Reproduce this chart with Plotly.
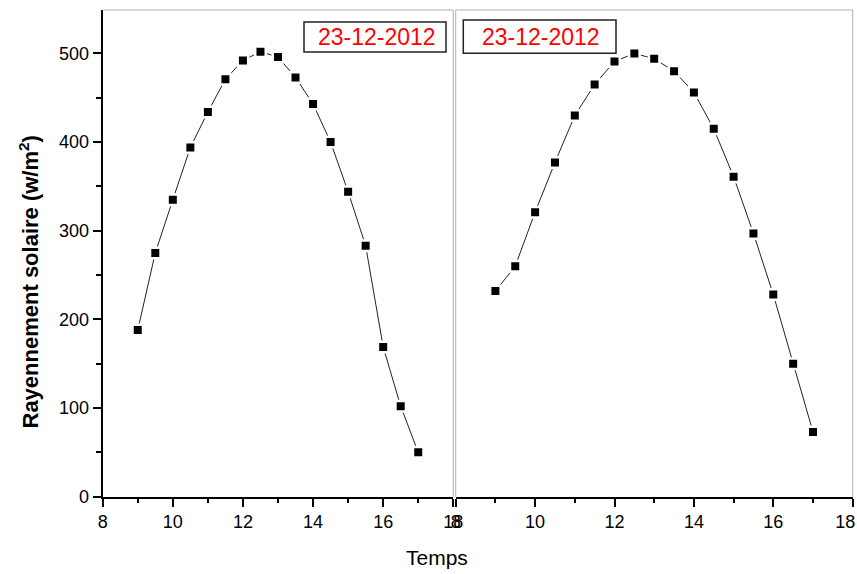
import plotly.graph_objects as go

# Heures de mesure (h)
temps = [9, 9.5, 10, 10.5, 11, 11.5, 12, 12.5, 13, 13.5, 14, 14.5, 15, 15.5, 16, 16.5, 17]

# Rayonnement solaire mesuré (W/m²), panneau de gauche
rayonnement_a = [188, 275, 335, 394, 434, 471, 492, 502, 496, 473, 443, 400, 344, 283, 169, 102, 50]
# Rayonnement solaire, panneau de droite
rayonnement_b = [232, 260, 321, 377, 430, 465, 491, 500, 494, 480, 456, 415, 361, 297, 228, 150, 73]

date_label = "23-12-2012"
x_ticks = [8, 10, 12, 14, 16, 18]
y_ticks = [0, 100, 200, 300, 400, 500]

W, H = 857, 574
FONT = "Liberation Sans, Arial, sans-serif"
NBSP = "\u00a0"


def px_x(p):
    return p / W


def px_y(p):
    return (H - p) / H


fig = go.Figure()

for xa, ya, vals in (("x", "y", rayonnement_a), ("x2", "y2", rayonnement_b)):
    # connecting line
    fig.add_trace(go.Scatter(x=temps, y=vals, mode="lines", xaxis=xa, yaxis=ya,
                             line=dict(color="#222", width=1), hoverinfo="skip"))
    # white halo so the line stops short of each square
    fig.add_trace(go.Scatter(x=temps, y=vals, mode="markers", xaxis=xa, yaxis=ya,
                             marker=dict(symbol="square", size=13, color="white"),
                             hoverinfo="skip"))
    fig.add_trace(go.Scatter(x=temps, y=vals, mode="markers", xaxis=xa, yaxis=ya,
                             marker=dict(symbol="square", size=8, color="black")))

x_left = (102.7, 453.3)
x_right = (455.7, 852.7)
y_bot, y_top = 496.7, 10.0

xcommon = dict(range=[8, 18], tickvals=x_ticks, ticks="outside", ticklen=8, tickwidth=1.5,
               tickcolor="black", showline=True, linecolor="black", linewidth=2,
               showgrid=False, zeroline=False, automargin=False,
               minor=dict(dtick=1, ticks="outside", ticklen=4, tickwidth=1.5, tickcolor="black"),
               tickfont=dict(family=FONT, size=18, color="black"))

# last label of the right panel is nudged left so it stays inside the page
right_ticktext = [str(t) for t in x_ticks]
right_ticktext[-1] = right_ticktext[-1] + NBSP * 3

fig.update_layout(
    width=W, height=H, autosize=False,
    margin=dict(l=0, r=0, t=0, b=0, pad=0, autoexpand=False),
    paper_bgcolor="white", plot_bgcolor="white",
    showlegend=False,
    xaxis=dict(domain=[px_x(x_left[0]), px_x(x_left[1])], anchor="y", **xcommon),
    xaxis2=dict(domain=[px_x(x_right[0]), px_x(x_right[1])], anchor="y2",
                ticktext=right_ticktext, ticklabeloverflow="allow", **xcommon),
    yaxis=dict(domain=[px_y(y_bot), px_y(y_top)], anchor="x", range=[0, 549],
               tickvals=y_ticks, ticks="outside", ticklen=8, tickwidth=1.5, tickcolor="black",
               showline=True, linecolor="black", linewidth=2, showgrid=False, zeroline=False,
               automargin=False,
               minor=dict(dtick=50, ticks="outside", ticklen=5, tickwidth=1.5, tickcolor="black"),
               tickfont=dict(family=FONT, size=18, color="black")),
    yaxis2=dict(domain=[px_y(y_bot), px_y(y_top)], anchor="x2", range=[0, 549],
                showline=False, showticklabels=False, ticks="", showgrid=False, zeroline=False,
                automargin=False),
)

# light grey frame around each panel (top and free sides)
grey = dict(color="#b0b0b0", width=1)
frame = [
    (x_left[0], y_top, x_left[1], y_top),
    (x_left[1], y_top, x_left[1], y_bot),
    (x_right[0], y_top, x_right[1], y_top),
    (x_right[0], y_top, x_right[0], y_bot),
    (x_right[1], y_top, x_right[1], y_bot),
]
for x0, y0, x1, y1 in frame:
    fig.add_shape(type="line", xref="paper", yref="paper",
                  x0=px_x(x0), y0=px_y(y0), x1=px_x(x1), y1=px_y(y1), line=grey)

# date boxes
for (bx0, by0, bx1, by1), (tx, ty) in (((304, 22, 446, 52), (377, 37.5)),
                                        ((463.3, 20, 616, 53.3), (541, 36.7))):
    fig.add_shape(type="rect", xref="paper", yref="paper",
                  x0=px_x(bx0), y0=px_y(by0), x1=px_x(bx1), y1=px_y(by1),
                  line=dict(color="#222", width=1.5), fillcolor="white")
    fig.add_annotation(xref="paper", yref="paper", x=px_x(tx), y=px_y(ty),
                       text=date_label, showarrow=False, xanchor="center", yanchor="middle",
                       font=dict(family=FONT, size=23, color="red"))

# axis titles
fig.add_annotation(xref="paper", yref="paper", x=px_x(28.5), y=px_y(282),
                   text="<b>Rayennement solaire (w/m<sup>2</sup>)</b>", textangle=-90,
                   showarrow=False, xanchor="center", yanchor="middle",
                   font=dict(family=FONT, size=22, color="black"))
fig.add_annotation(xref="paper", yref="paper", x=px_x(437), y=px_y(557),
                   text="Temps", showarrow=False, xanchor="center", yanchor="middle",
                   font=dict(family=FONT, size=21, color="black"))

fig.write_html("out.html")
